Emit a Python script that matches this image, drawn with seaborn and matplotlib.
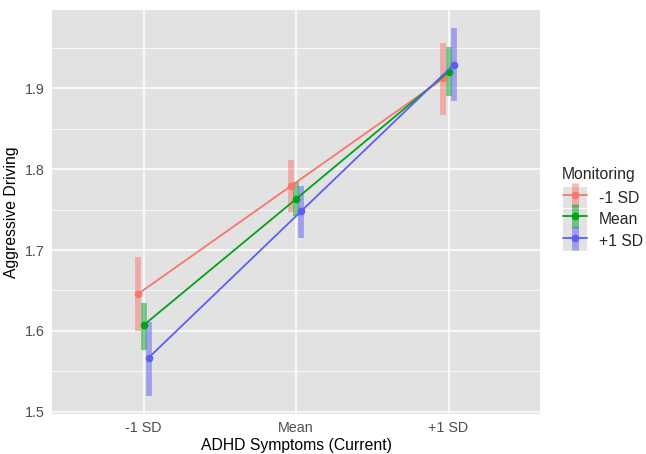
import numpy as np
import pandas as pd
import seaborn as sns
import matplotlib
matplotlib.use("Agg")
import matplotlib.pyplot as plt
from matplotlib.lines import Line2D
from matplotlib.patches import Patch
from matplotlib.legend_handler import HandlerTuple

# Simple-slopes estimates with confidence intervals
symptom_levels = ["-1 SD", "Mean", "+1 SD"]
monitoring_levels = ["-1 SD", "Mean", "+1 SD"]

est_low_mon = [1.646, 1.779, 1.912]
est_mean_mon = [1.607, 1.763, 1.920]
est_high_mon = [1.567, 1.748, 1.929]

lo_low_mon = [1.600, 1.747, 1.867]
lo_mean_mon = [1.576, 1.742, 1.890]
lo_high_mon = [1.520, 1.715, 1.884]

hi_low_mon = [1.691, 1.811, 1.956]
hi_mean_mon = [1.635, 1.784, 1.951]
hi_high_mon = [1.611, 1.779, 1.974]

palette = {"-1 SD": "#F8766D", "Mean": "#00A21A", "+1 SD": "#5E5EF6"}
dodge = {"-1 SD": -0.034, "Mean": 0.0, "+1 SD": 0.034}

rows = []
for mon, est, lo, hi in zip(monitoring_levels,
                            [est_low_mon, est_mean_mon, est_high_mon],
                            [lo_low_mon, lo_mean_mon, lo_high_mon],
                            [hi_low_mon, hi_mean_mon, hi_high_mon]):
    for i, sym in enumerate(symptom_levels):
        rows.append({"Monitoring": mon, "symptom": sym,
                     "xpos": i + dodge[mon], "est": est[i], "lo": lo[i], "hi": hi[i]})
df = pd.DataFrame(rows)

sns.set_style("darkgrid", {"axes.facecolor": "#E2E2E2", "grid.color": "white"})
plt.rcParams["font.family"] = ["Liberation Sans", "DejaVu Sans"]

fig = plt.figure(figsize=(6.46, 4.54), dpi=100)
ax = fig.add_axes([52 / 646, 1 - 413.5 / 454, (540 - 52) / 646, (413.5 - 10) / 454])

# confidence bands as translucent thick bars
for mon, g in df.groupby("Monitoring", sort=False):
    ax.vlines(g["xpos"], g["lo"], g["hi"], color=palette[mon], alpha=0.5,
              linewidth=4.2, zorder=2)

sns.lineplot(data=df, x="xpos", y="est", hue="Monitoring", palette=palette,
             hue_order=monitoring_levels, marker="o", markersize=5.5,
             markeredgewidth=0, linewidth=1.3, legend=False, ax=ax, zorder=3)

ax.set_xlim(-0.6, 2.6)
ax.set_ylim(1.498, 1.9966)
ax.set_xticks(range(3))
ax.set_xticklabels(symptom_levels)
ax.set_yticks([1.5, 1.6, 1.7, 1.8, 1.9])
ax.set_yticks([1.55, 1.65, 1.75, 1.85, 1.95], minor=True)
ax.grid(which="major", color="white", linewidth=1.1)
ax.grid(which="minor", axis="y", color="white", linewidth=0.55)
ax.set_axisbelow(True)
for s in ax.spines.values():
    s.set_visible(False)
ax.tick_params(axis="both", which="major", length=3, width=0.8, color="#333333",
               labelsize=10.3, labelcolor="#4D4D4D", pad=2.5)
ax.tick_params(which="minor", length=0)
ax.set_xlabel("ADHD Symptoms (Current)", fontsize=11.3, color="black", labelpad=2)
ax.set_ylabel("Aggressive Driving", fontsize=11.3, color="black", labelpad=4)

handles = []
for mon in monitoring_levels:
    c = palette[mon]
    key_bg = Patch(facecolor="#E2E2E2", edgecolor="none")
    bar = Line2D([], [], color=c, alpha=0.5, marker="|", markersize=17.5,
                 markeredgewidth=5, linestyle="None")
    ln = Line2D([], [], color=c, linewidth=1.3, marker="o", markersize=5.5,
                markeredgewidth=0)
    handles.append((key_bg, bar, ln))

fig.text(562 / 646, 1 - 174 / 454, "Monitoring", fontsize=11.3, va="center", ha="left")
leg = fig.legend(handles, monitoring_levels,
                 handler_map={tuple: HandlerTuple(ndivide=1, pad=0)},
                 loc="upper left", bbox_to_anchor=(563 / 646, 1 - 187 / 454),
                 frameon=False, fontsize=11.3,
                 handlelength=1.53, handleheight=1.7, handletextpad=0.77,
                 labelspacing=0.02, borderaxespad=0, borderpad=0)

fig.savefig("out.png", dpi=100)
